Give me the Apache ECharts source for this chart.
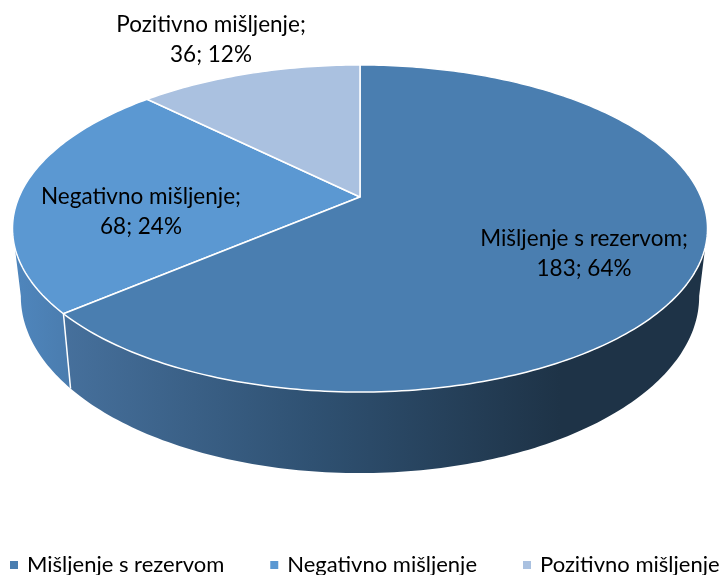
<!DOCTYPE html>
<html>
<head>
<meta charset="utf-8">
<style>html,body{margin:0;padding:0;background:#fff}#main{width:721px;height:575px}</style>
<script src="https://cdn.jsdelivr.net/npm/echarts@6/dist/echarts.min.js"></script>
</head>
<body>
<div id="main"></div>
<script>
const categories = ['Mišljenje s rezervom', 'Negativno mišljenje', 'Pozitivno mišljenje'];
const counts = [183, 68, 36];
const percents = [64, 24, 12];
const colors = ['#4a7eb0', '#5b98d2', '#aac1e0'];

// presek diska u perspektivi
const cx = 360, R = 341, persp = -0.1927, apexY = 197, spanY = 119.5, depth = 65.4, shrink = 0.976;
const labelAt = [[584, 254], [141, 212], [211, 40]];
const total = counts.reduce((a, b) => a + b, 0);
const wallFrom = 101 * Math.PI / 180, wallTo = 259 * Math.PI / 180;

const topPoint = (a) => {
    const u = Math.sin(a), v = -Math.cos(a), w = 1 + persp * v;
    return [cx + (R * u) / w, (apexY + spanY * v) / w];
};
const lowPoint = (a) => {
    const v = -Math.cos(a), w = 1 + persp * v, p = topPoint(a);
    return [cx + (p[0] - cx) * shrink, p[1] + depth / w];
};
const arc = (from, to, fn) => {
    const pts = [], n = Math.max(2, Math.ceil(Math.abs(to - from) * 60));
    for (let i = 0; i <= n; i++) pts.push(fn(from + ((to - from) * i) / n));
    return pts;
};
const wallFill = [
    new echarts.graphic.LinearGradient(64, 0, 560, 0, [
        { offset: 0, color: '#46709c' },
        { offset: 0.5, color: '#2f5172' },
        { offset: 1, color: '#1e3347' },
    ], true),
    new echarts.graphic.LinearGradient(14, 0, 70, 0, [
        { offset: 0, color: '#4f86bd' },
        { offset: 1, color: '#4a7cae' },
    ], true),
    null,
];

const drawSlice = (idx) => (params, api) => {
    const before = counts.slice(0, idx).reduce((a, b) => a + b, 0);
    const start = (before / total) * Math.PI * 2;
    const end = ((before + api.value(0)) / total) * Math.PI * 2;
    const children = [];
    const a0 = Math.max(start, wallFrom), a1 = Math.min(end, wallTo);
    if (a1 > a0) {
        children.push({
            type: 'polygon',
            shape: { points: arc(a0, a1, topPoint).concat(arc(a1, a0, lowPoint)) },
            style: { fill: wallFill[idx] },
        });
    }
    if (idx === 0) {
        children.push({
            type: 'line',
            shape: (() => {
                const p = topPoint(end), q = lowPoint(end);
                return { x1: p[0], y1: p[1], x2: q[0], y2: q[1] };
            })(),
            style: { stroke: '#fff', lineWidth: 1.5 },
        });
    }
    children.push({
        type: 'polygon',
        z2: 5,
        shape: { points: [[cx, apexY]].concat(arc(start, end, topPoint)) },
        style: { fill: colors[idx], stroke: '#fff', lineWidth: 1.5, lineJoin: 'round' },
    });
    children.push({
        type: 'text',
        z2: 10,
        x: labelAt[idx][0],
        y: labelAt[idx][1],
        style: {
            text: categories[idx] + ';\n' + counts[idx] + '; ' + percents[idx] + '%',
            fill: '#000',
            font: '22.5px Lato',
            lineHeight: 30,
            align: 'center',
            verticalAlign: 'middle',
        },
    });
    return { type: 'group', children };
};

const chart = echarts.init(document.getElementById('main'));
chart.setOption({
    animation: false,
    backgroundColor: '#fff',
    legend: {
        left: 10,
        top: 554,
        width: 760,
        padding: 0,
        icon: 'rect',
        itemWidth: 8,
        itemHeight: 8,
        itemGap: 46,
        textStyle: { fontFamily: 'Lato', fontSize: 22, color: '#000', padding: [0, 0, 0, 4] },
        data: categories,
    },
    series: categories.map((name, i) => ({
        type: 'custom',
        name,
        coordinateSystem: 'none',
        z: i === 0 ? 2 : i === 1 ? 1 : 3,
        silent: true,
        itemStyle: { color: colors[i] },
        renderItem: drawSlice(i),
        data: [[counts[i]]],
    })),
});
</script>
</body>
</html>
